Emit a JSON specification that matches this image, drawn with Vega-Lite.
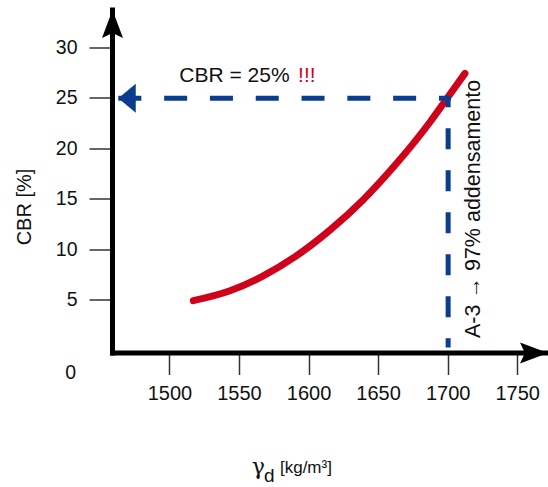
{
  "$schema": "https://vega.github.io/schema/vega-lite/v6.json",
  "autosize": "none",
  "width": 435.5,
  "height": 343,
  "padding": {"left": 112.5, "top": 10, "right": 0, "bottom": 134},
  "background": "white",
  "config": {
    "view": {"stroke": null},
    "font": "Liberation Sans"
  },
  "encoding": {
    "x": {"field": "gd", "type": "quantitative", "scale": {"domain": [1458.7, 1771.8], "nice": false, "zero": false},
      "axis": {"values": [1500, 1550, 1600, 1650, 1700, 1750], "format": "d", "title": null, "grid": false, "translate": 0, "labelFlush": false, "labelOverlap": false, "domainColor": "black", "domainWidth": 5, "domainCap": "square", "tickColor": "#333", "tickWidth": 1.5, "tickSize": 22, "labelFont": "Liberation Sans", "labelFontSize": 20, "labelColor": "#111", "labelPadding": 8.5}},
    "y": {"field": "cbr", "type": "quantitative", "scale": {"domain": [-0.25, 33.75], "nice": false, "zero": false},
      "axis": {"values": [5, 10, 15, 20, 25, 30], "format": "d", "title": "CBR [%]", "grid": false, "translate": 0, "labelOverlap": false, "domainColor": "black", "domainWidth": 5, "domainCap": "square", "tickColor": "#333", "tickWidth": 1.5, "tickSize": 23, "labelFont": "Liberation Sans", "labelFontSize": 19.5, "labelColor": "#111", "labelPadding": 12,
        "titleX": -82, "titleY": 197, "titleAngle": 270, "titleAlign": "center", "titleBaseline": "alphabetic", "titleFont": "Liberation Sans", "titleFontSize": 20, "titleFontWeight": "normal", "titleColor": "#111"}}
  },
  "layer": [
    {
      "data": {"values": [
        {"gd": 1516.8, "cbr": 4.94},
        {"gd": 1543.2, "cbr": 5.92},
        {"gd": 1567.1, "cbr": 7.40},
        {"gd": 1591.1, "cbr": 9.40},
        {"gd": 1615.1, "cbr": 11.94},
        {"gd": 1639.0, "cbr": 14.95},
        {"gd": 1663.0, "cbr": 18.55},
        {"gd": 1687.0, "cbr": 22.65},
        {"gd": 1699.0, "cbr": 24.95},
        {"gd": 1712.1, "cbr": 27.47}
      ]},
      "mark": {"type": "line", "color": "#d0021b", "strokeWidth": 7, "strokeCap": "round", "interpolate": "monotone"}
    },
    {
      "data": {"values": [{"gd": 1462.9, "cbr": 25, "i": 0}, {"gd": 1702, "cbr": 25, "i": 1}]},
      "mark": {"type": "line", "color": "#0a3d8f", "strokeWidth": 5, "strokeDash": [23, 22.8], "strokeCap": "butt"},
      "encoding": {"order": {"field": "i", "type": "quantitative"}}
    },
    {
      "data": {"values": [{"gd": 1700, "cbr": 25, "i": 0}, {"gd": 1700, "cbr": 0.3, "i": 1}]},
      "mark": {"type": "line", "color": "#0a3d8f", "strokeWidth": 5, "strokeDash": [21, 21], "strokeDashOffset": 12, "strokeCap": "butt"},
      "encoding": {"order": {"field": "i", "type": "quantitative"}}
    },
    {
      "data": {"values": [{"gd": 1462.9, "cbr": 25}]},
      "mark": {"type": "point", "shape": "M 0 0 L 1.2 -1 L 1.2 1 Z", "size": 841, "filled": true, "color": "#0a3d8f", "opacity": 1, "strokeWidth": 0}
    },
    {
      "data": {"values": [{"gd": 1458.7, "cbr": 33.75}]},
      "mark": {"type": "point", "shape": "M 0 0 L 0.75 2 L 0 1.65 L -0.75 2 Z", "size": 784, "filled": true, "color": "black", "opacity": 1, "strokeWidth": 0}
    },
    {
      "data": {"values": [{"gd": 1771.8, "cbr": -0.25}]},
      "mark": {"type": "point", "shape": "M 0 0 L -2 -0.75 L -1.65 0 L -2 0.75 Z", "size": 784, "filled": true, "color": "black", "opacity": 1, "strokeWidth": 0}
    },
    {
      "data": {"values": [{"gd": 1506.7, "cbr": 26.58, "t": "CBR = 25%"}]},
      "mark": {"type": "text", "fontSize": 21, "align": "left", "baseline": "alphabetic", "color": "#111"},
      "encoding": {"text": {"field": "t"}}
    },
    {
      "data": {"values": [{"gd": 1592.1, "cbr": 26.58, "t": "!!!"}]},
      "mark": {"type": "text", "fontSize": 21, "align": "left", "baseline": "alphabetic", "color": "#d0021b"},
      "encoding": {"text": {"field": "t"}}
    },
    {
      "data": {"values": [{"gd": 1722.9, "cbr": 1.24, "t": "A-3 → 97% addensamento"}]},
      "mark": {"type": "text", "fontSize": 21.5, "align": "left", "baseline": "alphabetic", "angle": 270, "color": "#111"},
      "encoding": {"text": {"field": "t"}}
    },
    {
      "data": {"values": [{"gd": 1432.5, "cbr": -2.26, "t": "0"}]},
      "mark": {"type": "text", "fontSize": 19.5, "align": "right", "baseline": "middle", "color": "#111"},
      "encoding": {"text": {"field": "t"}}
    },
    {
      "data": {"values": [{"gd": 1558.8, "cbr": -12.24, "t": "γ"}]},
      "mark": {"type": "text", "font": "DejaVu Serif", "fontSize": 22, "align": "left", "baseline": "alphabetic", "color": "#111"},
      "encoding": {"text": {"field": "t"}}
    },
    {
      "data": {"values": [{"gd": 1567.6, "cbr": -13.08, "t": "d"}]},
      "mark": {"type": "text", "fontSize": 19, "align": "left", "baseline": "alphabetic", "color": "#111"},
      "encoding": {"text": {"field": "t"}}
    },
    {
      "data": {"values": [{"gd": 1579.1, "cbr": -12.18, "t": "[kg/m³]"}]},
      "mark": {"type": "text", "fontSize": 17, "align": "left", "baseline": "alphabetic", "color": "#111"},
      "encoding": {"text": {"field": "t"}}
    }
  ]
}
